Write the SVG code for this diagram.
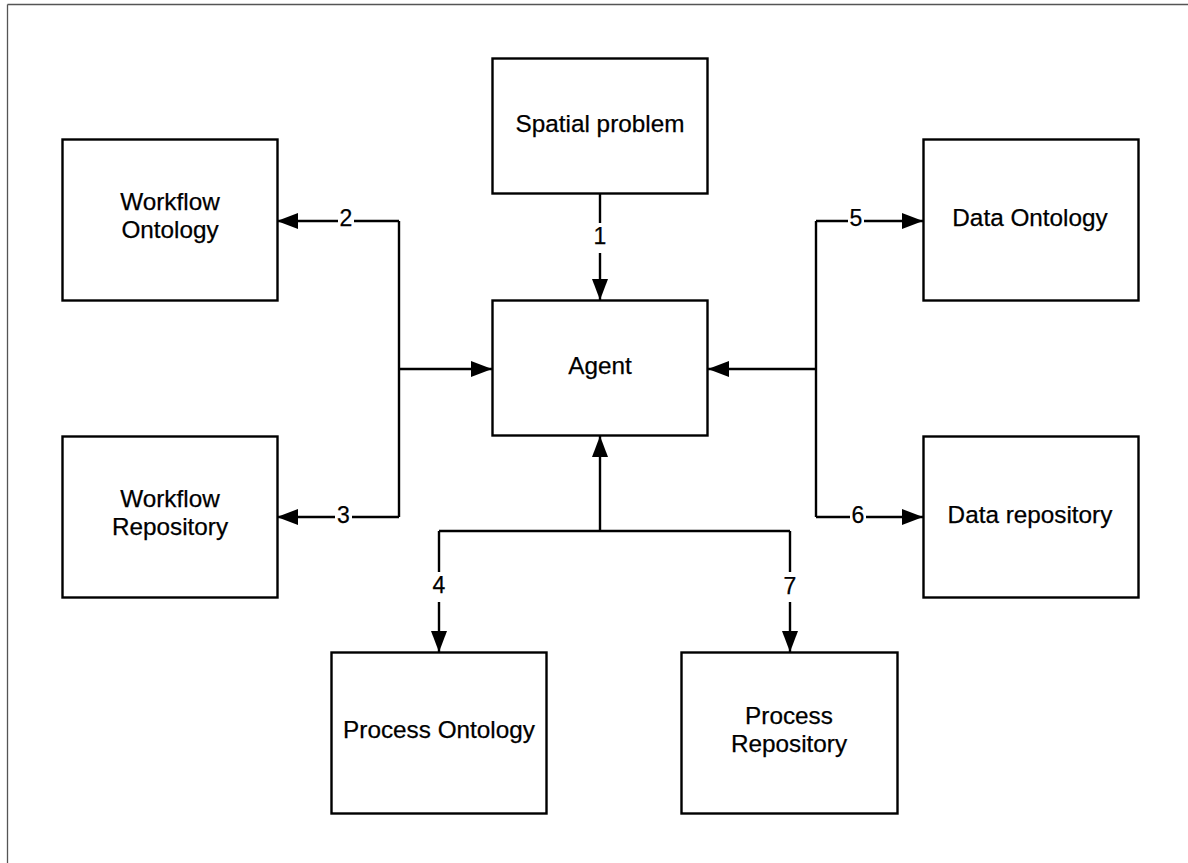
<svg xmlns="http://www.w3.org/2000/svg" width="1188" height="863" viewBox="0 0 1188 863">
<style>
.box{fill:#fff;stroke:#000;stroke-width:2.4}
.t{font-family:"Liberation Sans",Arial,sans-serif;font-size:24.3px;fill:#000;text-anchor:middle;stroke:#000;stroke-width:0.25}
.n{font-family:"Liberation Sans",Arial,sans-serif;font-size:23px;fill:#000;text-anchor:middle;stroke:#000;stroke-width:0.25}
.c{fill:none;stroke:#000;stroke-width:2.4}
.bg{fill:#fff}
</style>
<defs>
<marker id="arr" viewBox="0 0 21 16" refX="21" refY="8" markerWidth="21" markerHeight="16" markerUnits="userSpaceOnUse" orient="auto">
<path d="M0,0 L21,8 L0,16 z" fill="#000"/>
</marker>
</defs>
<rect width="1188" height="863" fill="#fff"/>
<line x1="7.5" y1="4.5" x2="1188" y2="4.5" stroke="#555" stroke-width="1.3"/>
<line x1="7.5" y1="4.5" x2="7.5" y2="863" stroke="#555" stroke-width="1.3"/>

<g id="connectors">
<path class="c" d="M600,193 V300" marker-end="url(#arr)"/>
<path class="c" d="M399,221 V517"/>
<path class="c" d="M399,221 H277" marker-end="url(#arr)"/>
<path class="c" d="M399,517 H277" marker-end="url(#arr)"/>
<path class="c" d="M399,369 H492" marker-end="url(#arr)"/>
<path class="c" d="M816,221 V517"/>
<path class="c" d="M816,221 H923" marker-end="url(#arr)"/>
<path class="c" d="M816,517 H923" marker-end="url(#arr)"/>
<path class="c" d="M816,369 H708" marker-end="url(#arr)"/>
<path class="c" d="M600,531 V436" marker-end="url(#arr)"/>
<path class="c" d="M439,531 H790"/>
<path class="c" d="M439,531 V652" marker-end="url(#arr)"/>
<path class="c" d="M790,531 V652" marker-end="url(#arr)"/>
<rect class="bg" x="592" y="223" width="16" height="30"/>
<text class="n" x="600" y="243.5">1</text>
<rect class="bg" x="338" y="208" width="16" height="18"/>
<text class="n" x="346" y="225.5">2</text>
<rect class="bg" x="335" y="505" width="17" height="18"/>
<text class="n" x="343.5" y="522.5">3</text>
<rect class="bg" x="431" y="572" width="16" height="30"/>
<text class="n" x="439" y="593">4</text>
<rect class="bg" x="848" y="208" width="16" height="18"/>
<text class="n" x="856" y="225.5">5</text>
<rect class="bg" x="850" y="505" width="16" height="18"/>
<text class="n" x="858" y="522.5">6</text>
<rect class="bg" x="782" y="572" width="16" height="30"/>
<text class="n" x="790" y="594">7</text>
</g>

<g id="spatial-problem">
<rect class="box" x="492.5" y="58.5" width="215" height="135"/>
<text class="t" x="600" y="132">Spatial problem</text>
</g>
<g id="agent">
<rect class="box" x="492.5" y="300.5" width="215" height="135"/>
<text class="t" x="600" y="374">Agent</text>
</g>
<g id="workflow-ontology">
<rect class="box" x="62.5" y="139.5" width="215" height="161"/>
<text class="t" x="170" y="210">Workflow</text>
<text class="t" x="170" y="237.5">Ontology</text>
</g>
<g id="workflow-repository">
<rect class="box" x="62.5" y="436.5" width="215" height="161"/>
<text class="t" x="170" y="507">Workflow</text>
<text class="t" x="170" y="534.5">Repository</text>
</g>
<g id="data-ontology">
<rect class="box" x="923.5" y="139.5" width="215" height="161"/>
<text class="t" x="1030" y="226">Data Ontology</text>
</g>
<g id="data-repository">
<rect class="box" x="923.5" y="436.5" width="215" height="161"/>
<text class="t" x="1030" y="522.5">Data repository</text>
</g>
<g id="process-ontology">
<rect class="box" x="331.5" y="652.5" width="215" height="161"/>
<text class="t" x="439" y="737.5">Process Ontology</text>
</g>
<g id="process-repository">
<rect class="box" x="681.5" y="652.5" width="216" height="161"/>
<text class="t" x="789" y="723.5">Process</text>
<text class="t" x="789" y="751.5">Repository</text>
</g>
</svg>
